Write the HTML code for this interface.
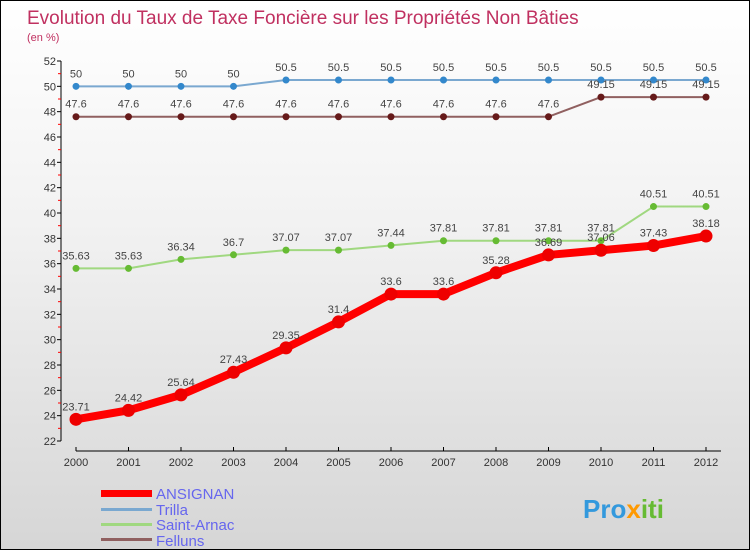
<!DOCTYPE html>
<html><head><meta charset="utf-8"><style>
body{margin:0}
#c{width:748px;height:548px;border:1px solid #000;background:linear-gradient(#ffffff,#f2f2f2 40%,#d6d6d6);position:relative;overflow:hidden;font-family:"Liberation Sans",sans-serif}
</style></head><body>
<div id="c">
<svg id="s" width="748" height="548">
<text x="26" y="23" font-size="19" fill="#c03060">Evolution du Taux de Taxe Foncière sur les Propriétés Non Bâties</text>
<text x="26" y="40" font-size="11" fill="#c03060">(en %)</text>
<g id="axes"></g><g id="series"></g>
<g>
<rect x="100" y="489" width="51" height="7" fill="#ff0000"/>
<text x="155" y="498" font-size="15" fill="#6666ee">ANSIGNAN</text>
<rect x="100" y="507" width="51" height="3" fill="#7aa8d0"/>
<text x="155" y="514" font-size="15" fill="#6666ee">Trilla</text>
<rect x="100" y="522" width="51" height="3" fill="#a0d880"/>
<text x="155" y="529" font-size="15" fill="#6666ee">Saint-Arnac</text>
<rect x="100" y="537" width="51" height="3" fill="#906060"/>
<text x="155" y="545" font-size="15" fill="#6666ee">Felluns</text>
</g>
<text x="582" y="517" font-size="26" font-weight="bold" fill="#3399dd">Pro<tspan fill="#ff9900">x</tspan><tspan fill="#66bb33">iti</tspan></text>
</svg>
</div>
<script>
const years=[2000,2001,2002,2003,2004,2005,2006,2007,2008,2009,2010,2011,2012];
const yTicks=[22,24,26,28,30,32,34,36,38,40,42,44,46,48,50,52];
const ansignan=[23.71,24.42,25.64,27.43,29.35,31.4,33.6,33.6,35.28,36.69,37.06,37.43,38.18];
const trilla=[50,50,50,50,50.5,50.5,50.5,50.5,50.5,50.5,50.5,50.5,50.5];
const saintArnac=[35.63,35.63,36.34,36.7,37.07,37.07,37.44,37.81,37.81,37.81,37.81,40.51,40.51];
const felluns=[47.6,47.6,47.6,47.6,47.6,47.6,47.6,47.6,47.6,47.6,49.15,49.15,49.15];
const NS="http://www.w3.org/2000/svg";
const X=i=>75+i*52.5, Y=v=>60+(52-v)*(380/30);
function mk(t,a,p){const e=document.createElementNS(NS,t);for(const k in a)e.setAttribute(k,a[k]);p.appendChild(e);return e;}
const ax=document.getElementById('axes'), se=document.getElementById('series');
let l=mk('line',{x1:60,y1:60,x2:60,y2:440,stroke:'#000'},ax);


l=mk('line',{x1:75,y1:450,x2:720,y2:450,stroke:'#000'},ax);


yTicks.forEach(v=>{
 mk('line',{x1:56,y1:Y(v),x2:60,y2:Y(v),stroke:'#000'},ax);
 if(v>22) mk('line',{x1:57,y1:Y(v-1),x2:60,y2:Y(v-1),stroke:'#f00'},ax);
 const t=mk('text',{x:55,y:Y(v)+4,'font-size':11,'text-anchor':'end',fill:'#333'},ax);t.textContent=v;
 
 
});
years.forEach((yr,i)=>{
 mk('line',{x1:X(i),y1:446,x2:X(i),y2:450,stroke:'#000'},ax);
 const t=mk('text',{x:X(i),y:465,'font-size':11,'text-anchor':'middle',fill:'#333'},ax);t.textContent=yr;
 
 
});
function series(name,vals,color,dot,lw,r){
 const g=mk('g',{},se);
 
 
 mk('polyline',{points:vals.map((v,i)=>X(i)+','+Y(v)).join(' '),fill:'none',stroke:color,'stroke-width':lw,'stroke-linejoin':'round'},g);
 vals.forEach((v,i)=>{
  const c=mk('circle',{cx:X(i),cy:Y(v),r:r,fill:dot},g);
  
  
  const t=mk('text',{x:X(i),y:Y(v)-9,'font-size':11,'text-anchor':'middle',fill:'#444'},g);t.textContent=v;
  
  
 });
}
series('trilla',trilla,'#7aa8d0','#3388cc',2,3.5);
series('felluns',felluns,'#906060','#661a1a',2,3.5);
series('saint-arnac',saintArnac,'#a0d880','#66bb33',2,3.5);
series('ansignan',ansignan,'#ff0000','#ee0000',8,6.5);
</script>
</body></html>
